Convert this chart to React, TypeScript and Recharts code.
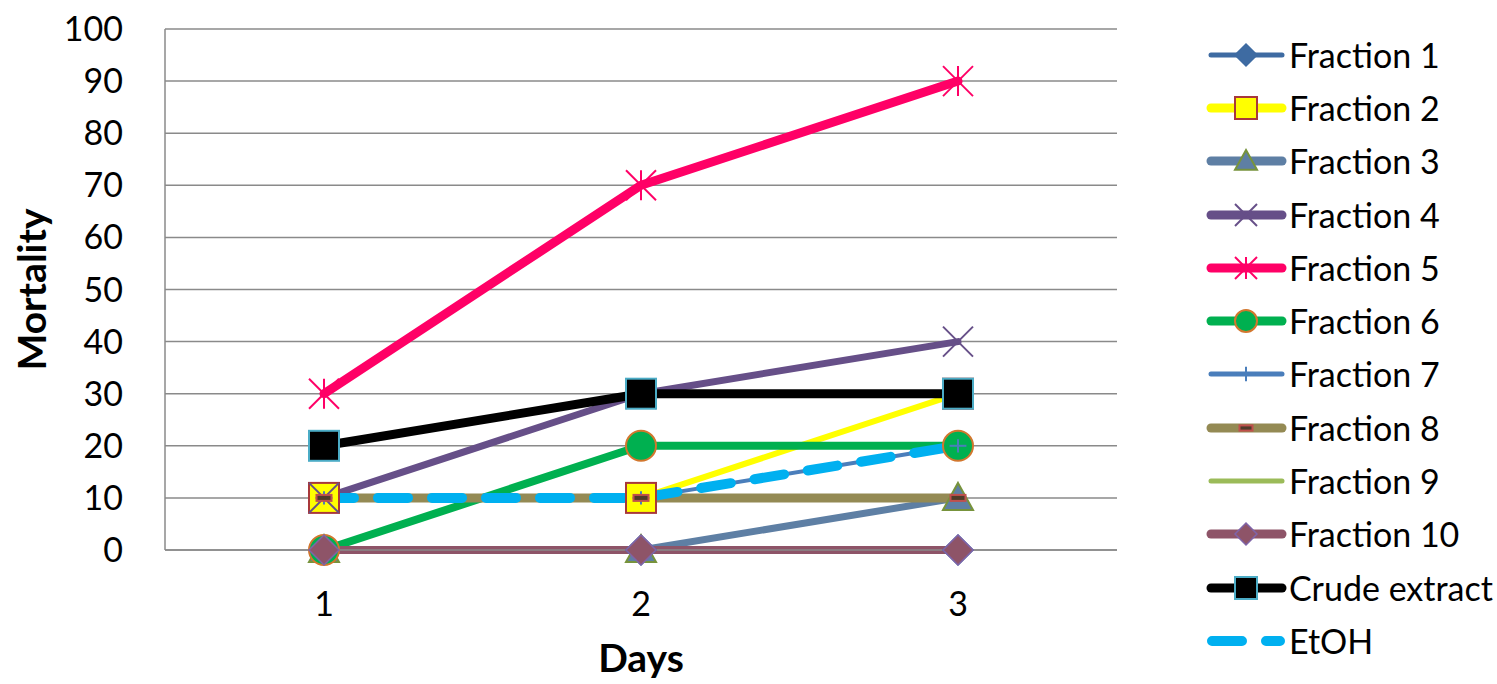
import { LineChart, Line, XAxis, YAxis, CartesianGrid } from 'recharts'

const days = ['1', '2', '3']
const fraction1 = [0, 0, 0]
const fraction2 = [10, 10, 30]
const fraction3 = [0, 0, 10]
const fraction4 = [10, 30, 40]
const fraction5 = [30, 70, 90]
const fraction6 = [0, 20, 20]
const fraction7 = [10, 10, 20]
const fraction8 = [10, 10, 10]
const fraction9 = [0, 0, 0]
const fraction10 = [0, 0, 0]
const crudeExtract = [20, 30, 30]
const etoh = [10, 10, 20]
const yTicks = [0, 10, 20, 30, 40, 50, 60, 70, 80, 90, 100]

type Shape = 'diamond' | 'square' | 'triangle' | 'x' | 'star' | 'circle' | 'plus' | 'dash' | 'none'

interface Series {
  key: string
  name: string
  values: number[]
  color: string
  width: number
  legendWidth: number
  shape: Shape
  fill?: string
  edge?: string
  dash?: string
}

const series: Series[] = [
  { key: 'f1', name: 'Fraction 1', values: fraction1, color: '#3E6BA2', width: 4, legendWidth: 5, shape: 'diamond', fill: '#3E6BA2', edge: '#3E6BA2' },
  { key: 'f2', name: 'Fraction 2', values: fraction2, color: '#FFFF00', width: 6, legendWidth: 9, shape: 'square', fill: '#FFFF00', edge: '#A8383B' },
  { key: 'f3', name: 'Fraction 3', values: fraction3, color: '#5E7FA4', width: 7, legendWidth: 9, shape: 'triangle', fill: '#5E7FA4', edge: '#77933C' },
  { key: 'f4', name: 'Fraction 4', values: fraction4, color: '#664F88', width: 7, legendWidth: 9, shape: 'x', edge: '#664F88' },
  { key: 'f5', name: 'Fraction 5', values: fraction5, color: '#FF0066', width: 9, legendWidth: 9, shape: 'star', edge: '#FF0066' },
  { key: 'f6', name: 'Fraction 6', values: fraction6, color: '#00B050', width: 8, legendWidth: 9, shape: 'circle', fill: '#00B050', edge: '#D2772E' },
  { key: 'f7', name: 'Fraction 7', values: fraction7, color: '#4A7EBB', width: 4, legendWidth: 5, shape: 'plus', edge: '#4A7EBB' },
  { key: 'f8', name: 'Fraction 8', values: fraction8, color: '#948A54', width: 9, legendWidth: 9, shape: 'dash', fill: '#4F3B2A', edge: '#C0504D' },
  { key: 'f9', name: 'Fraction 9', values: fraction9, color: '#9BBB59', width: 4, legendWidth: 5, shape: 'none' },
  { key: 'f10', name: 'Fraction 10', values: fraction10, color: '#8E5468', width: 8, legendWidth: 9, shape: 'diamond', fill: '#8E5468', edge: '#7F64A8' },
  { key: 'crude', name: 'Crude extract', values: crudeExtract, color: '#000000', width: 9, legendWidth: 9, shape: 'square', fill: '#000000', edge: '#4BACC6' },
  { key: 'etoh', name: 'EtOH', values: etoh, color: '#00B0F0', width: 10, legendWidth: 10, shape: 'none', dash: '30 24' },
]

const data = days.map((day, i) => {
  const row: Record<string, string | number> = { day }
  series.forEach((s) => { row[s.key] = s.values[i] })
  return row
})

const GRID = '#8A8A8A'

function Marker({ cx, cy, s, size }: { cx: number; cy: number; s: Series; size: number }) {
  const r = size / 2
  const edge = s.edge ?? s.color
  switch (s.shape) {
    case 'diamond':
      return <polygon points={`${cx},${cy - r} ${cx + r},${cy} ${cx},${cy + r} ${cx - r},${cy}`} fill={s.fill} stroke={edge} strokeWidth={1.5} />
    case 'square':
      return <rect x={cx - r} y={cy - r} width={size} height={size} fill={s.fill} stroke={edge} strokeWidth={2} />
    case 'triangle':
      return <polygon points={`${cx},${cy - r} ${cx + r},${cy + r * 0.8} ${cx - r},${cy + r * 0.8}`} fill={s.fill} stroke={edge} strokeWidth={2} />
    case 'circle':
      return <circle cx={cx} cy={cy} r={r} fill={s.fill} stroke={edge} strokeWidth={2} />
    case 'x':
      return (
        <g stroke={edge} strokeWidth={2}>
          <line x1={cx - r} y1={cy - r} x2={cx + r} y2={cy + r} />
          <line x1={cx - r} y1={cy + r} x2={cx + r} y2={cy - r} />
        </g>
      )
    case 'star':
      return (
        <g stroke={edge} strokeWidth={2}>
          <line x1={cx - r} y1={cy - r} x2={cx + r} y2={cy + r} />
          <line x1={cx - r} y1={cy + r} x2={cx + r} y2={cy - r} />
          <line x1={cx} y1={cy - r} x2={cx} y2={cy + r} />
        </g>
      )
    case 'plus':
      return (
        <g stroke={edge} strokeWidth={2}>
          <line x1={cx - r * 0.7} y1={cy} x2={cx + r * 0.7} y2={cy} />
          <line x1={cx} y1={cy - r * 0.55} x2={cx} y2={cy + r * 0.55} />
        </g>
      )
    case 'dash':
      return <rect x={cx - r * 0.5} y={cy - r * 0.2} width={size * 0.5} height={size * 0.2} fill={s.fill} stroke={edge} strokeWidth={2} />
    default:
      return null
  }
}

function LegendIcon({ s }: { s: Series }) {
  return (
    <svg width={84} height={40} style={{ display: 'block' }}>
      {s.dash ? (
        <line x1={9} y1={20} x2={77} y2={20} stroke={s.color} strokeWidth={s.legendWidth} strokeLinecap="round" strokeDasharray="30 24" />
      ) : (
        <line x1={8} y1={20} x2={79} y2={20} stroke={s.color} strokeWidth={s.legendWidth} strokeLinecap="round" />
      )}
      <Marker cx={43} cy={20} s={s} size={s.shape === 'plus' || s.shape === 'dash' ? 26 : 22} />
    </svg>
  )
}

export default function App() {
  return (
    <div style={{ position: 'absolute', left: 0, top: 0, width: 1497, height: 684, background: '#fff', fontFamily: 'Lato, sans-serif' }}>
      <LineChart width={1497} height={684} data={data} margin={{ top: 29, right: 380, bottom: 0, left: 0 }}>
        <CartesianGrid vertical={false} stroke={GRID} strokeWidth={1.5} />
        <XAxis
          dataKey="day"
          tickLine={false}
          tickSize={0}
          tickMargin={42}
          height={134}
          padding={{ left: 159, right: 159 }}
          axisLine={{ stroke: GRID, strokeWidth: 1.5 }}
          tick={{ fontSize: 34, fill: '#000' }}
          label={{ value: 'Days', position: 'insideBottom', offset: 12, style: { fontSize: 39, fontWeight: 700, fill: '#000' } }}
        />
        <YAxis
          domain={[0, 100]}
          ticks={yTicks}
          width={165}
          tickLine={false}
          tickSize={0}
          tickMargin={42}
          axisLine={{ stroke: GRID, strokeWidth: 1.5 }}
          tick={{ fontSize: 34, fill: '#000' }}
          label={{ value: 'Mortality', angle: -90, position: 'insideLeft', offset: 32, textAnchor: 'middle', style: { fontSize: 39, fontWeight: 700, fill: '#000', textAnchor: 'middle' } }}
        />
        {series.map((s) => (
          <Line
            key={s.key}
            dataKey={s.key}
            name={s.name}
            type="linear"
            stroke={s.color}
            strokeWidth={s.width}
            strokeDasharray={s.dash}
            strokeLinecap="round"
            strokeLinejoin="round"
            isAnimationActive={false}
            activeDot={false}
            dot={(p: any) => <Marker key={`${s.key}-${p.index}`} cx={p.cx} cy={p.cy} s={s} size={s.shape === 'dash' ? 30 : s.shape === 'plus' ? 24 : 30} />}
          />
        ))}
      </LineChart>
      <div style={{ position: 'absolute', left: 1203, top: 28 }}>
        {series.map((s) => (
          <div key={s.key} style={{ height: 53.3, display: 'flex', alignItems: 'center' }}>
            <LegendIcon s={s} />
            <span style={{ fontSize: 34, color: '#000', marginLeft: 2, whiteSpace: 'nowrap', lineHeight: 1 }}>{s.name}</span>
          </div>
        ))}
      </div>
    </div>
  )
}
